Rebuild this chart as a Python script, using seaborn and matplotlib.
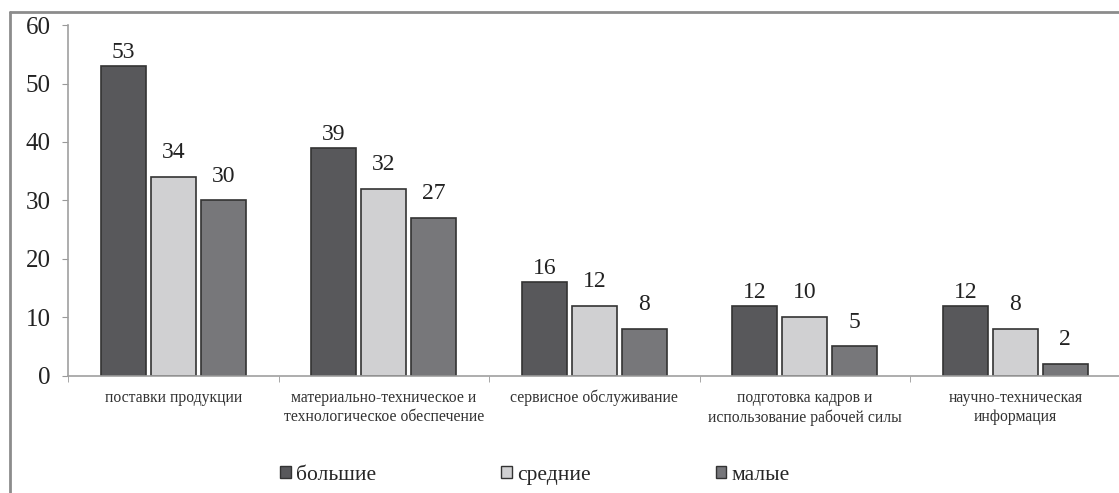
import matplotlib
matplotlib.use("Agg")
import matplotlib.pyplot as plt
import matplotlib.patches as mpatches
from matplotlib.lines import Line2D
import seaborn as sns
import pandas as pd

categories = ["поставки продукции",
              "материально-техническое и\nтехнологическое обеспечение",
              "сервисное обслуживание",
              "подготовка кадров и\nиспользование рабочей силы",
              "научно-техническая\nинформация"]
groups = ["большие", "средние", "малые"]
large = [53, 39, 16, 12, 12]
medium = [34, 32, 12, 10, 8]
small = [30, 27, 8, 5, 2]
colors = ["#58585b", "#d0d0d2", "#76767a"]

df = pd.DataFrame({
    "cat": categories * 3,
    "grp": [g for g in groups for _ in categories],
    "val": large + medium + small,
})

sns.set_style("white")
plt.rcParams["font.family"] = ["Liberation Serif", "DejaVu Serif"]

fig = plt.figure(figsize=(11.19, 4.93), dpi=100)
ax = fig.add_axes([0.0608, 0.238, 0.9406, 0.711])

sns.barplot(data=df, x="cat", y="val", hue="grp", palette=colors,
            width=0.7125, gap=0.1, edgecolor="#333333", linewidth=1.2,
            legend=False, ax=ax)

# label offsets differ a bit per series, like in the original
pads = [2, 10, 10]
for cont, p in zip(ax.containers, pads):
    ax.bar_label(cont, padding=p, fontsize=17, color="#222222")

ax.set_xlim(-0.5, 4.5)
ax.set_ylim(0, 60)
ax.set_yticks(range(0, 61, 10))
ax.set_xlabel("")
ax.set_ylabel("")
ax.tick_params(axis="y", labelsize=18, length=4.5, color="#999999",
               left=True, labelcolor="#222222", pad=8)
ax.tick_params(axis="x", which="major", length=0, labelsize=11.3,
               labelcolor="#333333", pad=10)
for lab in ax.get_xticklabels():
    lab.set_linespacing(1.3)
ax.set_xticks([i - 0.5 for i in range(6)], minor=True)
ax.tick_params(axis="x", which="minor", length=4, color="#999999",
               bottom=True)
for s in ["top", "right"]:
    ax.spines[s].set_visible(False)
for s in ["left", "bottom"]:
    ax.spines[s].set_color("#a0a0a0")
    ax.spines[s].set_linewidth(1.2)

handles = [mpatches.Patch(facecolor=c, edgecolor="#333333", label=g)
           for c, g in zip(colors, groups)]
fig.legend(handles=handles, loc="center", bbox_to_anchor=(0.478, 0.036),
           ncol=3, frameon=False, fontsize=15.5, handlelength=0.5,
           handleheight=0.5, handletextpad=0.25, columnspacing=5.8)

# outer chart frame
fig.add_artist(Line2D([0.0089, 0.0089], [0, 0.9757], color="#8c8c8c",
                      linewidth=2, transform=fig.transFigure))
fig.add_artist(Line2D([0.0089, 1], [0.9757, 0.9757], color="#8c8c8c",
                      linewidth=2, transform=fig.transFigure))

fig.savefig("out.png", dpi=100)
